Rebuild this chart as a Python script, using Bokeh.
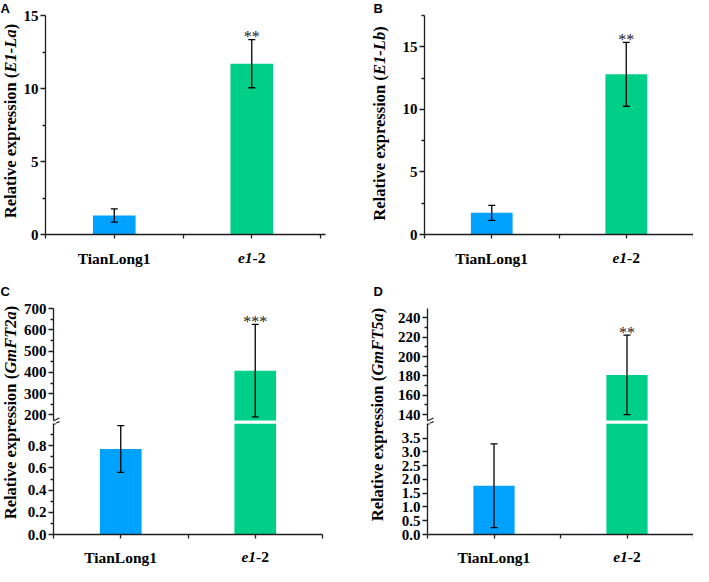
import math
from bokeh.plotting import figure
from bokeh.layouts import row, column
from bokeh.models import (ColumnDataSource, Whisker, TeeHead, Label, Range1d,
                          FixedTicker, PrintfTickFormatter, Arrow)
from bokeh.embed import file_html
from bokeh.resources import INLINE

# ---------------- data ----------------
categories = ["TianLong1", "e1-2"]
category_parts = [[("TianLong1", "bold")], [("e1", "bold italic"), ("-2", "bold")]]
bar_colors = ["#00A2FF", "#00CF8A"]

a_mean = [1.30, 11.70]
a_err = [0.45, 1.65]
a_sig = ["", "**"]
a_gene = "E1-La"

b_mean = [1.73, 12.80]
b_err = [0.60, 2.55]
b_sig = ["", "**"]
b_gene = "E1-Lb"

c_mean = [0.77, 408.0]
c_err = [0.21, 217.0]
c_sig = ["", "***"]
c_gene = "GmFT2a"

d_mean = [1.77, 181.0]
d_err = [1.52, 41.0]
d_sig = ["", "**"]
d_gene = "GmFT5a"

a_ticks = [0, 5, 10, 15]
a_range = (0, 15)
b_ticks = [0, 5, 10, 15]
b_range = (0, 17.5)
c_low_ticks = [0.0, 0.2, 0.4, 0.6, 0.8]
c_low_range = (0, 1.0)
c_up_ticks = [200, 300, 400, 500, 600, 700]
c_up_range = (174, 700)
d_low_ticks = [0.0, 0.5, 1.0, 1.5, 2.0, 2.5, 3.0, 3.5]
d_low_range = (0, 4.03)
d_up_ticks = [140, 160, 180, 200, 220, 240]
d_up_range = (134, 249.5)

# ---------------- style ----------------
SERIF = "Liberation Serif"
SANS = "Liberation Sans"
AX_COL = "#1e1e1e"
AX_W = 1.3
FS_YT = "15px"
FS_X = 15.5
FS_YL = 16.5
BAR_W = 0.31
GAP = 3

W_B = {" ": 250, "(": 333, ")": 333, "-": 333, "R": 722, "E": 667, "L": 667, "G": 778,
       "F": 611, "T": 667, "a": 500, "b": 556, "e": 444, "i": 278, "l": 278, "m": 833,
       "n": 556, "o": 500, "p": 556, "r": 444, "s": 389, "t": 333, "v": 500, "x": 500, "g": 500}
W_BI = {"E": 667, "L": 611, "G": 722, "F": 667, "T": 611, "-": 333, "a": 500, "b": 500,
        "e": 444, "m": 778}


def tw(s, style, fs):
    table = W_BI if "italic" in style else W_B
    return sum(table.get(ch, 500) for ch in s) * fs / 1000.0


def clean(p):
    p.outline_line_color = None
    p.background_fill_color = "white"
    p.border_fill_color = "white"
    for g in p.grid:
        g.visible = False


def make_fig(width, height, xr, yr, ml, mr, mt, mb, show_x=True):
    p = figure(width=width, height=height, x_range=Range1d(*xr), y_range=Range1d(*yr),
               toolbar_location=None, output_backend="svg",
               x_axis_location="below" if show_x else None,
               min_border_left=ml, min_border_right=mr, min_border_top=mt, min_border_bottom=mb)
    clean(p)
    return p


def strip(width, height, xr=(0, 1), ml=0, mr=0):
    p = figure(width=width, height=height, x_range=Range1d(*xr), y_range=Range1d(0, 1),
               x_axis_location=None, y_axis_location=None, toolbar_location=None,
               output_backend="svg", min_border_left=ml, min_border_right=mr,
               min_border_top=0, min_border_bottom=0)
    clean(p)
    return p


def style_y(p, ticks, rng, fmt, minor=True, bounded=False):
    ax = p.yaxis[0]
    minors = []
    if minor and len(ticks) > 1:
        step = ticks[1] - ticks[0]
        minors = [t + step / 2 for t in ticks if t + step / 2 <= rng[1] + 1e-9]
    ax.ticker = FixedTicker(ticks=ticks, minor_ticks=minors)
    ax.formatter = PrintfTickFormatter(format=fmt)
    if bounded:
        ax.bounds = rng
    ax.major_label_text_font = SERIF
    ax.major_label_text_font_style = "bold"
    ax.major_label_text_font_size = FS_YT
    ax.major_label_text_color = "black"
    ax.major_label_standoff = 2
    ax.axis_line_color = AX_COL
    ax.axis_line_width = AX_W
    ax.major_tick_line_color = AX_COL
    ax.major_tick_line_width = AX_W
    ax.minor_tick_line_color = AX_COL
    ax.minor_tick_line_width = AX_W
    ax.major_tick_out = 5
    ax.major_tick_in = 0
    ax.minor_tick_out = 3
    ax.minor_tick_in = 0


def style_x(p):
    ax = p.xaxis[0]
    n = len(categories)
    ax.ticker = FixedTicker(ticks=[], minor_ticks=[k / 2 for k in range(1, 2 * n + 2)])
    ax.axis_line_color = AX_COL
    ax.axis_line_width = AX_W
    ax.major_tick_out = 0
    ax.major_label_standoff = 0
    ax.minor_tick_line_color = AX_COL
    ax.minor_tick_line_width = AX_W
    ax.minor_tick_out = 4
    ax.minor_tick_in = 0


def x_labels(p, ymid):
    for i, parts in enumerate(category_parts):
        widths = [tw(t, st, FS_X) for t, st in parts]
        off = -sum(widths) / 2
        for (t, st), w in zip(parts, widths):
            p.add_layout(Label(x=i + 1, y=ymid, x_units="data", y_units="screen",
                               x_offset=off, text=t, text_align="left",
                               text_baseline="middle", text_font=SERIF,
                               text_font_style=st, text_font_size=f"{FS_X}px",
                               text_color="black"))
            off += w


def y_title(p, x, yc, gene):
    parts = [("Relative expression (", "bold"), (gene, "bold italic"), (")", "bold")]
    widths = [tw(t, st, FS_YL) for t, st in parts]
    y = yc - sum(widths) / 2
    for (t, st), w in zip(parts, widths):
        p.add_layout(Label(x=x, y=y, x_units="screen", y_units="screen", text=t,
                           angle=math.pi / 2, text_align="left", text_baseline="middle",
                           text_font=SERIF, text_font_style=st,
                           text_font_size=f"{FS_YL}px", text_color="black"))
        y += w


def letter(p, x, y, t):
    p.add_layout(Label(x=x, y=y, x_units="screen", y_units="screen", text=t,
                       text_align="left", text_baseline="top", text_font=SANS,
                       text_font_style="bold", text_font_size="13px", text_color="black"))


def add_bars(p, means, errs, sig, rng):
    lo, hi = rng
    xs, bots, tops, cols = [], [], [], []
    for i, m in enumerate(means):
        if m > lo:
            xs.append(i + 1)
            bots.append(max(0, lo))
            tops.append(min(m, hi))
            cols.append(bar_colors[i])
    p.vbar(x=xs, bottom=bots, top=tops, width=BAR_W, fill_color=cols, line_color=None)
    wx, wl, wu = [], [], []
    for i, (m, e) in enumerate(zip(means, errs)):
        if m - e >= lo and m + e <= hi:
            wx.append(i + 1)
            wl.append(m - e)
            wu.append(m + e)
            if sig[i]:
                p.add_layout(Label(x=i + 1, y=m + e, y_offset=3, text=sig[i],
                                   text_align="center", text_baseline="alphabetic",
                                   text_font=SERIF, text_font_size="16px", text_color="#222222"))
    src = ColumnDataSource(dict(x=wx, lower=wl, upper=wu))
    p.add_layout(Whisker(source=src, base="x", lower="lower", upper="upper",
                         level="annotation", line_color="black", line_width=1.3,
                         upper_head=TeeHead(size=7, line_width=1.3, line_color="black"),
                         lower_head=TeeHead(size=7, line_width=1.3, line_color="black")))


def break_marks(p, yc):
    for dy in (-1.8, 1.8):
        p.add_layout(Arrow(end=None, x_start=-3, y_start=yc + dy - 2.2,
                           x_end=6, y_end=yc + dy + 2.2,
                           start_units="screen", end_units="screen",
                           line_color=AX_COL, line_width=1.2))


TOP_MT, TOP_F, TOP_MB, TOP_XL = 15, 219, 10, 23
TOP_H = TOP_MT + TOP_F + TOP_MB + TOP_XL          # 267
BOT_MT, F_UP, F_LOW, BOT_MB, BOT_XL = 41, 112, 111, 9, 23
BOT_H = BOT_MT + F_UP + GAP + F_LOW + BOT_MB + BOT_XL   # 299


def simple_panel(strip_w, fig_w, ml, mr, x_end, means, errs, sig, rng, ticks, gene,
                 lab_x, lab_yc, let_x, let):
    s = strip(strip_w, TOP_H)
    y_title(s, lab_x, lab_yc, gene)
    letter(s, let_x, TOP_H, let)
    p = make_fig(fig_w, TOP_MT + TOP_F + TOP_MB, (0.5, x_end), rng, ml, mr, TOP_MT, TOP_MB)
    add_bars(p, means, errs, sig, rng)
    style_y(p, ticks, rng, "%d")
    style_x(p)
    xl = strip(fig_w, TOP_XL, (0.5, x_end), ml, mr)
    x_labels(xl, 9.5)
    return row(s, column(p, xl))


def broken_panel(strip_w, fig_w, ml, mr, means, errs, sig, up_rng, up_ticks, low_rng,
                 low_ticks, low_minor, gene, lab_x, lab_yc, let_x, let):
    s = strip(strip_w, BOT_H)
    y_title(s, lab_x, lab_yc, gene)
    letter(s, let_x, BOT_H - 16, let)
    # upper part: its frame also covers the white gap below the break
    lo, hi = up_rng
    ext_lo = lo - GAP * (hi - lo) / F_UP
    up = make_fig(fig_w, BOT_MT + F_UP + GAP, (0.5, 2.5), (ext_lo, hi), ml, mr, BOT_MT, 0,
                  show_x=False)
    add_bars(up, means, errs, sig, up_rng)
    style_y(up, up_ticks, up_rng, "%d", bounded=True)
    break_marks(up, GAP / 2)
    low = make_fig(fig_w, F_LOW + BOT_MB, (0.5, 2.5), low_rng, ml, mr, 0, BOT_MB)
    add_bars(low, means, errs, sig, low_rng)
    style_y(low, low_ticks, low_rng, "%.1f", minor=low_minor)
    style_x(low)
    break_marks(low, F_LOW + GAP / 2)
    xl = strip(fig_w, BOT_XL, (0.5, 2.5), ml, mr)
    x_labels(xl, 9.5)
    return row(s, column(up, low, xl))


panelA = simple_panel(20, 320, 24, 15, 0.5 + 281 / 138, a_mean, a_err, a_sig, a_range,
                      a_ticks, a_gene, 10, 146.5, 0, "A")
panelB = simple_panel(50, 303, 34, 0, 2.5, b_mean, b_err, b_sig, b_range,
                      b_ticks, b_gene, 39, 144, 33, "B")
panelC = broken_panel(20, 320, 30, 18, c_mean, c_err, c_sig, c_up_range, c_up_ticks,
                      c_low_range, c_low_ticks, True, c_gene, 10, 154, 0, "C")
panelD = broken_panel(47, 306, 40, 0, d_mean, d_err, d_sig, d_up_range, d_up_ticks,
                      d_low_range, d_low_ticks, False, d_gene, 37, 152, 33, "D")

layout = column(row(panelA, panelB), row(panelC, panelD))

open("out.html", "w").write(file_html(layout, INLINE))
